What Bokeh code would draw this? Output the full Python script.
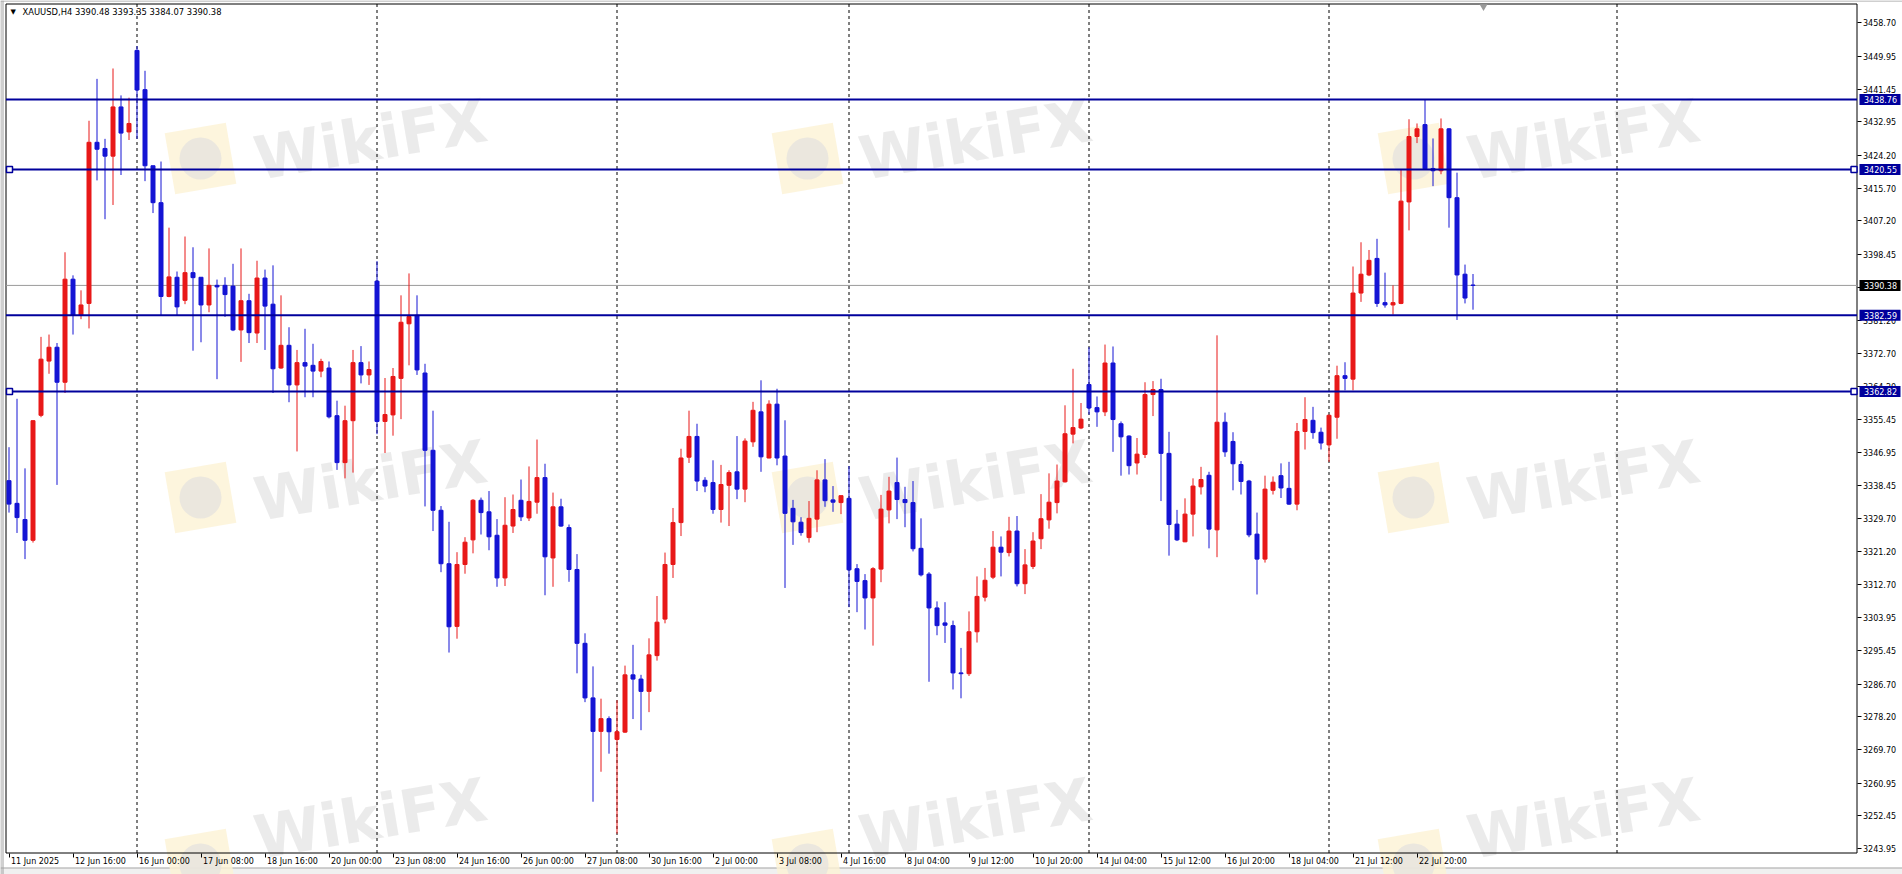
from bokeh.plotting import figure
from bokeh.models import Range1d, FixedTicker, PrintfTickFormatter, LinearAxis, ColumnDataSource
from bokeh.embed import file_html
from bokeh.resources import INLINE
from bokeh.core.properties import value

symbol = "XAUUSD,H4"

opens = [3339.6, 3333.7, 3329.5, 3324.1, 3356.6, 3370.7, 3374.3, 3365.2, 3392.0, 3382.6,
         3385.7, 3427.6, 3426.0, 3424.0, 3436.8, 3430.3, 3451.5, 3441.3, 3421.5, 3411.9,
         3387.5, 3392.5, 3386.5, 3393.7, 3392.5, 3385.3, 3390.4, 3390.4, 3390.2, 3378.8,
         3386.4, 3378.0, 3392.3, 3385.5, 3368.9, 3374.8, 3364.5, 3370.3, 3369.6, 3368.1,
         3368.9, 3356.5, 3344.3, 3355.2, 3370.3, 3367.1, 3391.5, 3355.0, 3356.7, 3366.2,
         3380.4, 3382.6, 3367.6, 3347.5, 3331.9, 3318.0, 3301.7, 3317.8, 3324.2, 3334.5,
         3331.5, 3325.4, 3314.3, 3327.8, 3334.5, 3329.9, 3334.0, 3340.4, 3319.5, 3332.8,
         3327.4, 3316.5, 3297.3, 3283.1, 3274.4, 3277.7, 3272.3, 3274.2, 3289.1, 3288.0,
         3284.8, 3294.1, 3303.6, 3317.8, 3328.7, 3345.7, 3351.1, 3339.7, 3339.1, 3332.1,
         3338.4, 3341.9, 3337.4, 3349.7, 3357.5, 3345.5, 3359.5, 3346.0, 3332.4, 3328.8,
         3324.8, 3329.6, 3339.8, 3334.6, 3333.9, 3335.0, 3316.7, 3313.6, 3309.1, 3316.6,
         3332.0, 3339.1, 3334.7, 3333.9, 3322.0, 3315.3, 3306.5, 3302.6, 3301.9, 3289.6,
         3289.4, 3300.3, 3309.3, 3314.5, 3322.3, 3320.9, 3326.5, 3312.8, 3317.3, 3324.5,
         3329.4, 3333.9, 3339.3, 3351.7, 3353.3, 3364.6, 3358.6, 3357.5, 3370.2, 3354.4,
         3351.2, 3344.2, 3346.4, 3362.0, 3363.3, 3346.7, 3328.3, 3323.7, 3330.9, 3338.0,
         3341.0, 3326.8, 3354.8, 3349.8, 3343.8, 3339.5, 3325.7, 3319.2, 3337.1, 3340.9,
         3337.6, 3333.5, 3352.4, 3355.3, 3352.2, 3348.9, 3356.1, 3366.9, 3366.0, 3388.4,
         3393.1, 3397.4, 3385.9, 3385.3, 3385.7, 3412.1, 3429.1, 3432.2, 3420.8, 3420.2,
         3431.1, 3413.2, 3393.3, 3390.48]

highs = [3348.3, 3360.9, 3342.8, 3355.3, 3377.0, 3377.6, 3375.4, 3399.0, 3393.0, 3389.1,
         3433.2, 3444.1, 3428.5, 3446.8, 3439.8, 3439.2, 3452.6, 3446.2, 3421.5, 3422.6,
         3405.4, 3394.0, 3403.1, 3400.3, 3392.5, 3400.0, 3391.9, 3392.5, 3396.0, 3400.0,
         3388.2, 3396.8, 3394.5, 3395.6, 3387.8, 3379.5, 3373.6, 3379.1, 3375.2, 3371.3,
         3370.6, 3360.4, 3359.1, 3373.6, 3374.6, 3370.6, 3396.7, 3366.3, 3368.9, 3387.8,
         3393.5, 3387.8, 3370.0, 3357.8, 3333.0, 3328.9, 3321.0, 3324.9, 3334.8, 3335.2,
         3336.9, 3329.6, 3335.3, 3336.0, 3339.9, 3343.3, 3350.3, 3344.0, 3336.5, 3334.9,
         3328.2, 3320.5, 3299.9, 3291.3, 3282.9, 3278.3, 3282.5, 3291.5, 3296.9, 3289.1,
         3298.6, 3309.6, 3320.9, 3332.5, 3347.9, 3357.8, 3354.4, 3340.5, 3344.9, 3343.7,
         3342.3, 3351.2, 3350.6, 3360.1, 3365.7, 3360.5, 3363.5, 3355.3, 3334.6, 3330.1,
         3334.3, 3342.3, 3345.2, 3338.2, 3335.7, 3343.4, 3317.9, 3315.3, 3317.1, 3335.9,
         3340.6, 3345.6, 3338.0, 3339.5, 3329.8, 3315.8, 3308.2, 3308.0, 3303.2, 3296.1,
         3305.6, 3314.7, 3316.9, 3326.5, 3325.1, 3330.2, 3330.4, 3321.8, 3326.2, 3336.1,
         3341.5, 3343.8, 3359.2, 3368.7, 3359.8, 3374.3, 3361.5, 3375.0, 3374.5, 3355.0,
         3351.4, 3350.7, 3365.2, 3365.5, 3366.1, 3352.3, 3332.0, 3335.0, 3340.2, 3343.2,
         3341.9, 3377.4, 3357.3, 3352.2, 3344.7, 3339.8, 3331.3, 3340.9, 3340.7, 3344.1,
         3344.5, 3354.6, 3361.3, 3358.8, 3353.4, 3356.8, 3369.5, 3370.4, 3395.3, 3401.6,
         3399.6, 3402.5, 3393.7, 3390.4, 3420.6, 3433.6, 3432.5, 3438.8, 3428.6, 3433.8,
         3431.3, 3419.7, 3395.8, 3393.35]

lows = [3331.3, 3326.0, 3319.2, 3323.5, 3356.1, 3367.4, 3338.5, 3362.4, 3377.6, 3381.6,
        3379.2, 3417.7, 3407.6, 3411.3, 3419.1, 3428.2, 3428.5, 3417.5, 3409.2, 3382.6,
        3387.3, 3382.6, 3385.5, 3373.4, 3375.6, 3383.4, 3366.0, 3382.2, 3378.5, 3370.5,
        3375.4, 3375.4, 3373.6, 3362.4, 3368.7, 3360.0, 3347.2, 3361.3, 3361.3, 3366.5,
        3355.8, 3342.4, 3340.2, 3341.7, 3364.9, 3364.5, 3351.7, 3346.8, 3351.3, 3355.6,
        3369.6, 3367.1, 3332.9, 3326.5, 3315.8, 3294.9, 3298.5, 3315.4, 3320.7, 3325.6,
        3321.5, 3312.0, 3312.2, 3326.0, 3329.1, 3329.1, 3331.0, 3309.8, 3312.0, 3327.6,
        3313.3, 3289.5, 3282.0, 3256.1, 3263.9, 3268.6, 3247.8, 3274.0, 3277.6, 3274.7,
        3279.4, 3292.8, 3302.5, 3314.3, 3325.2, 3344.2, 3336.9, 3336.6, 3331.0, 3328.7,
        3327.8, 3334.8, 3334.0, 3348.4, 3341.9, 3345.4, 3343.6, 3311.7, 3322.9, 3325.3,
        3323.5, 3326.2, 3332.8, 3331.5, 3330.9, 3306.7, 3305.4, 3300.9, 3296.7, 3313.2,
        3328.5, 3329.6, 3327.5, 3321.2, 3314.7, 3287.3, 3299.4, 3297.4, 3285.3, 3283.0,
        3288.8, 3297.5, 3308.2, 3314.0, 3314.7, 3319.9, 3312.1, 3310.1, 3316.6, 3321.8,
        3327.1, 3331.1, 3339.1, 3349.3, 3353.0, 3356.8, 3353.6, 3356.4, 3347.1, 3340.9,
        3341.2, 3341.2, 3345.5, 3356.4, 3334.3, 3320.1, 3323.9, 3323.6, 3325.1, 3336.0,
        3322.0, 3319.7, 3345.8, 3337.1, 3336.0, 3324.9, 3310.0, 3318.3, 3336.0, 3335.1,
        3333.3, 3331.9, 3347.7, 3350.5, 3347.7, 3344.5, 3350.5, 3363.1, 3363.1, 3386.1,
        3392.8, 3384.8, 3384.6, 3382.8, 3385.5, 3404.7, 3427.4, 3420.6, 3416.2, 3419.3,
        3405.4, 3381.4, 3385.7, 3384.07]

closes = [3333.5, 3330.0, 3324.1, 3355.2, 3371.2, 3374.3, 3365.2, 3392.0, 3382.6, 3385.3,
          3427.6, 3425.8, 3424.0, 3436.8, 3430.0, 3432.5, 3441.2, 3421.5, 3411.9, 3387.5,
          3392.6, 3384.8, 3393.7, 3392.4, 3385.3, 3390.4, 3390.0, 3388.0, 3378.8, 3386.4,
          3378.1, 3392.3, 3385.0, 3368.7, 3374.8, 3364.5, 3370.3, 3369.4, 3368.1, 3370.6,
          3356.2, 3344.3, 3355.2, 3370.3, 3367.1, 3368.5, 3355.0, 3356.8, 3366.7, 3380.8,
          3382.3, 3368.4, 3347.5, 3331.9, 3318.0, 3301.6, 3317.8, 3323.6, 3334.5, 3331.3,
          3325.0, 3314.3, 3328.0, 3332.1, 3330.2, 3334.2, 3340.4, 3319.8, 3332.8, 3327.8,
          3316.5, 3297.3, 3283.1, 3274.4, 3277.7, 3274.3, 3274.3, 3289.1, 3288.0, 3284.8,
          3294.3, 3302.8, 3317.8, 3328.7, 3345.5, 3351.1, 3339.5, 3338.2, 3332.1, 3338.6,
          3341.7, 3337.4, 3349.9, 3357.9, 3345.8, 3359.5, 3345.5, 3331.1, 3328.9, 3326.1,
          3329.8, 3339.8, 3334.4, 3334.0, 3335.7, 3316.4, 3313.4, 3309.1, 3316.7, 3332.2,
          3336.9, 3334.7, 3333.9, 3321.9, 3315.1, 3306.5, 3301.9, 3302.0, 3289.6, 3289.4,
          3300.3, 3309.5, 3313.7, 3322.3, 3321.0, 3326.5, 3312.8, 3317.7, 3323.9, 3329.7,
          3334.0, 3339.5, 3351.8, 3353.4, 3355.6, 3358.5, 3357.5, 3370.2, 3355.5, 3351.0,
          3343.5, 3346.5, 3362.0, 3363.3, 3346.7, 3328.2, 3324.2, 3330.9, 3338.2, 3339.9,
          3327.0, 3354.8, 3347.1, 3344.0, 3339.4, 3325.5, 3319.2, 3337.4, 3339.2, 3337.7,
          3333.5, 3352.4, 3355.5, 3352.1, 3349.4, 3356.6, 3366.9, 3366.2, 3388.4, 3393.3,
          3396.9, 3385.7, 3385.3, 3385.9, 3412.3, 3429.1, 3431.1, 3420.7, 3420.2, 3431.1,
          3413.2, 3393.1, 3387.1, 3390.38]

x_tick_bars = [0, 8, 16, 24, 32, 40, 48, 56, 64, 72, 80, 88, 96, 104, 112, 120,
               128, 136, 144, 152, 160, 168, 176]
x_tick_labels = ["11 Jun 2025", "12 Jun 16:00", "16 Jun 00:00", "17 Jun 08:00",
                 "18 Jun 16:00", "20 Jun 00:00", "23 Jun 08:00", "24 Jun 16:00",
                 "26 Jun 00:00", "27 Jun 08:00", "30 Jun 16:00", "2 Jul 00:00",
                 "3 Jul 08:00", "4 Jul 16:00", "8 Jul 04:00", "9 Jul 12:00",
                 "10 Jul 20:00", "14 Jul 04:00", "15 Jul 12:00", "16 Jul 20:00",
                 "18 Jul 04:00", "21 Jul 12:00", "22 Jul 20:00"]
y_ticks = [3458.70, 3449.95, 3441.45, 3432.95, 3424.20, 3415.70, 3407.20, 3398.45,
           3389.95, 3381.20, 3372.70, 3364.20, 3355.45, 3346.95, 3338.45, 3329.70,
           3321.20, 3312.70, 3303.95, 3295.45, 3286.70, 3278.20, 3269.70, 3260.95,
           3252.45, 3243.95]
levels = [3438.76, 3420.55, 3382.59, 3362.82]
level_has_anchor = [False, True, False, True]
current_price = 3390.38
week_breaks = [16, 46, 76, 105, 135, 165, 201]

# ---------------- layout (page pixels; the frame fills the whole canvas) ----------------
W, H = 1902, 874
BAR_PX = 8.0
X0 = -8.5 / BAR_PX                # bar i centred at page x 8.5 + 8 i
X1 = X0 + W / BAR_PX
PX_Y = 3.845                      # pixels per price unit
Y_TOP = 3438.76 + 98.9 / PX_Y
Y_BOT = Y_TOP - H / PX_Y

LEFT_PX, TOP_PX, SCALE_PX, BOTTOM_PX = 5.5, 3.5, 1856.5, 852.5

UP = "#e81818"
DOWN = "#1414d4"
LEVEL = "#00009c"
FONT = "DejaVu Sans"

CHAR_EM = {"0": 0.636, "1": 0.636, "2": 0.636, "3": 0.636, "4": 0.636, "5": 0.636,
           "6": 0.636, "7": 0.636, "8": 0.636, "9": 0.636, " ": 0.318, ":": 0.337,
           "J": 0.295, "u": 0.634, "n": 0.634, "l": 0.278}


def dx(px):      # page x -> data x
    return X0 + px / BAR_PX


def dy(py):      # page y -> data y
    return Y_TOP - py / PX_Y


XL, XA = dx(LEFT_PX), dx(SCALE_PX)
YT, YB = dy(TOP_PX), dy(BOTTOM_PX)

p = figure(frame_width=W, frame_height=H,
           x_range=Range1d(X0, X1), y_range=Range1d(Y_BOT, Y_TOP),
           x_axis_location=None, y_axis_location=None,
           output_backend="svg", toolbar_location=None,
           min_border_left=0, min_border_top=0, min_border_right=0, min_border_bottom=0,
           background_fill_color="white", border_fill_color="white")
p.outline_line_color = None
p.xgrid.visible = False
p.ygrid.visible = False

# ---- window edges ----
p.quad(left=[X0], right=[X1], top=[dy(868)], bottom=[Y_BOT], fill_color="#f0f0f0",
       line_color=None)
p.segment(x0=[X0, X0, dx(0.5), dx(2.5)], y0=[dy(0.5), dy(867.5), Y_BOT, Y_BOT],
          x1=[X1, X1, dx(0.5), dx(2.5)], y1=[dy(0.5), dy(867.5), Y_TOP, Y_TOP],
          line_color="#a0a0a0", line_width=1)

# ---- watermark ----
wm_cols_text = [370, 975, 1583]
wm_cols_logo = [200, 807, 1413]
wm_rows_text = [139, 480, 818]
wm_rows_logo = [158, 497, 864]
lx, ly, tx, ty = [], [], [], []
for r in range(3):
    for c in range(3):
        lx.append(dx(wm_cols_logo[c])); ly.append(dy(wm_rows_logo[r]))
        tx.append(dx(wm_cols_text[c])); ty.append(dy(wm_rows_text[r]))
p.rect(x=lx, y=ly, width=62, height=62, width_units="screen", height_units="screen",
       angle=0.17, fill_color="#fdf2d4", line_color=None, fill_alpha=0.8)
p.circle(x=lx, y=ly, radius=21, radius_units="screen", fill_color="#e6e3de",
         line_color=None, fill_alpha=0.8)
p.text(x=tx, y=ty, text=["WikiFX"] * len(tx), angle=0.17,
       text_font=value(FONT), text_font_style="bold", text_font_size="60px",
       text_color="#e8e8e8", text_alpha=0.85, text_align="center", text_baseline="middle")

# ---- weekly separators ----
p.segment(x0=week_breaks, y0=[YB] * len(week_breaks), x1=week_breaks,
          y1=[YT] * len(week_breaks), line_color="black", line_dash="3 3", line_width=1)

# ---- chart box: left, top, bottom borders and the price-scale line ----
p.segment(x0=[XL, XL, XL, XA], y0=[YB, YT, YB, YB], x1=[XL, XA, XA, XA], y1=[YT, YT, YB, YT],
          line_color="black", line_width=1)

# current price line
p.segment(x0=[XL], y0=[current_price], x1=[XA], y1=[current_price],
          line_color="#9a9a9a", line_width=1)

# ---- candles ----
idx = list(range(len(opens)))
colors = [UP if c >= o else DOWN for o, c in zip(opens, closes)]
src = ColumnDataSource(dict(x=idx, h=highs, l=lows,
                            top=[max(o, c) for o, c in zip(opens, closes)],
                            bot=[min(o, c) for o, c in zip(opens, closes)],
                            color=colors))
p.segment(x0="x", y0="l", x1="x", y1="h", line_color="color", line_width=1, source=src)
p.vbar(x="x", width=0.5, top="top", bottom="bot", fill_color="color",
       line_color="color", line_width=1, source=src)

# ---- horizontal levels ----
p.segment(x0=[XL] * len(levels), y0=levels, x1=[XA] * len(levels), y1=levels,
          line_color=LEVEL, line_width=2)
anch = [lv for lv, a in zip(levels, level_has_anchor) if a]
p.scatter(x=[dx(9)] * len(anch) + [dx(SCALE_PX - 3)] * len(anch), y=anch + anch,
          marker="square", size=6, fill_color="white", line_color=LEVEL, line_width=1.5)

# chart shift marker
p.scatter(x=[dx(1483)], y=[dy(6)], marker="inverted_triangle", size=8,
          fill_color="#9a9a9a", line_color=None)

# header text
p.text(x=[dx(10)], y=[dy(11)], text=["\u25bc"],
       text_font=value(FONT), text_font_size="7px", text_color="black",
       text_baseline="middle")
p.text(x=[dx(22)], y=[dy(11)],
       text=["%s  %.2f %.2f %.2f %.2f" % (symbol, opens[-1], highs[-1], lows[-1], closes[-1])],
       text_font=value(FONT), text_font_size="8.4px", text_color="black",
       text_baseline="middle")

# ---- time axis: tick marks ----
xa = LinearAxis(ticker=FixedTicker(ticks=x_tick_bars), fixed_location=YB,
                major_label_text_font_size="0px", major_label_text_alpha=0,
                major_label_standoff=0, major_tick_in=0, major_tick_out=4,
                minor_tick_in=0, minor_tick_out=0, axis_line_color=None,
                major_tick_line_color="black")
p.add_layout(xa, "below")

# ---- time axis: labels, left-aligned just right of each tick ----
FS = 8.0
label_pos = []
for b, t in zip(x_tick_bars, x_tick_labels):
    w = sum(CHAR_EM.get(ch, 0.6) for ch in t) * FS
    label_pos.append(b + (w / 2 + 2.0) / BAR_PX)
xl = LinearAxis(ticker=FixedTicker(ticks=label_pos), fixed_location=YB,
                major_label_overrides={pos: t for pos, t in zip(label_pos, x_tick_labels)},
                major_tick_in=0, major_tick_out=0, minor_tick_in=0, minor_tick_out=0,
                axis_line_color=None, major_tick_line_color=None,
                major_label_standoff=4, major_label_text_font=FONT,
                major_label_text_font_size="8px", major_label_text_color="black")
p.add_layout(xl, "below")

# ---- price scale ----
ya = LinearAxis(ticker=FixedTicker(ticks=y_ticks), fixed_location=XA,
                formatter=PrintfTickFormatter(format="%.2f"),
                major_label_text_font=FONT, major_label_text_font_size="8px",
                major_label_text_color="black", major_label_standoff=2,
                major_tick_in=0, major_tick_out=4, minor_tick_in=0, minor_tick_out=0,
                axis_line_color=None, major_tick_line_color="black")
p.add_layout(ya, "right")

# price boxes on the price scale
box_y = levels + [current_price]
box_c = [LEVEL] * len(levels) + ["black"]
p.rect(x=[dx(1879.5)] * len(box_y), y=box_y, width=41, height=11,
       width_units="screen", height_units="screen", fill_color=box_c, line_color=None,
       level="overlay")
p.text(x=[dx(1880)] * len(box_y), y=box_y, text=["%.2f" % v for v in box_y],
       text_font=value(FONT), text_font_size="8px", text_color="white",
       text_baseline="middle", text_align="center", level="overlay")

open("out.html", "w").write(file_html(p, INLINE))
